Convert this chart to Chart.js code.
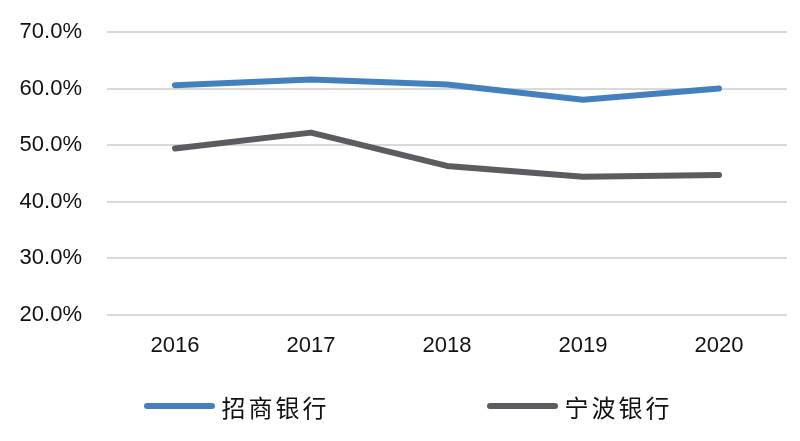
<!DOCTYPE html>
<html>
<head>
<meta charset="utf-8">
<script src="https://cdn.jsdelivr.net/npm/chart.js@4/dist/chart.umd.min.js"></script>
<style>
  html, body { margin: 0; padding: 0; background: #fff; }
  #wrap { position: relative; width: 800px; height: 441px; }
  #legend {
    position: absolute; left: 8px; top: 391px; width: 800px; height: 30px;
    display: flex; justify-content: center; align-items: center; gap: 157px;
    font-family: "Noto Sans CJK SC", sans-serif; font-size: 24px; color: #111;
  }
  .item { display: flex; align-items: center; }
  .swatch { width: 71px; height: 6px; border-radius: 3px; margin-right: 7px; }
  .name { letter-spacing: 3px; }
</style>
</head>
<body>
<div id="wrap">
  <canvas id="myChart" width="800" height="441"></canvas>
  <div id="legend"></div>
</div>
<script>
const years = ["2016", "2017", "2018", "2019", "2020"];
const seriesNames = ["招商银行", "宁波银行"];
const cmbValues = [60.6, 61.6, 60.7, 58.0, 60.0];
const nbValues = [49.4, 52.2, 46.3, 44.4, 44.7];
const seriesColors = ["#4480bd", "#5b5b60"];
const yTicks = [20, 30, 40, 50, 60, 70];

const showChart = () => {
  const ctx = document.getElementById("myChart").getContext("2d");
  const dataChart = {
    labels: years,
    datasets: [
      { label: seriesNames[0], data: cmbValues, borderColor: seriesColors[0], backgroundColor: seriesColors[0] },
      { label: seriesNames[1], data: nbValues, borderColor: seriesColors[1], backgroundColor: seriesColors[1] },
    ],
  };
  const config = {
    type: "line",
    data: dataChart,
    options: {
      responsive: false,
      animation: false,
      layout: { padding: { left: 18, right: 13, top: 32, bottom: 72 } },
      elements: {
        line: { borderWidth: 6, tension: 0, borderCapStyle: "round", borderJoinStyle: "round" },
        point: { radius: 0 },
      },
      plugins: { legend: { display: false }, tooltip: { enabled: false } },
      scales: {
        x: {
          offset: true,
          grid: { display: false },
          border: { display: false },
          ticks: { color: "#111", padding: 10, font: { family: "Liberation Sans", size: 22 } },
        },
        y: {
          min: yTicks[0],
          max: yTicks[yTicks.length - 1],
          afterBuildTicks: (axis) => { axis.ticks = yTicks.map((v) => ({ value: v })); },
          afterFit: (axis) => {
            axis.width = 89;
            axis.paddingTop = 0;
            axis.paddingBottom = 0;
          },
          grid: { color: "#d9d9d9", lineWidth: 2, drawTicks: false },
          border: { display: false },
          ticks: {
            color: "#111",
            padding: 25,
            font: { family: "Liberation Sans", size: 22 },
            callback: (v) => v.toFixed(1) + "%",
          },
        },
      },
    },
  };
  new Chart(ctx, config);

  // legend
  const legend = document.getElementById("legend");
  seriesNames.forEach((name, i) => {
    const item = document.createElement("div");
    item.className = "item";
    item.innerHTML = `<span class="swatch" style="background:${seriesColors[i]}"></span><span class="name">${name}</span>`;
    legend.appendChild(item);
  });
};
showChart();
</script>
</body>
</html>
